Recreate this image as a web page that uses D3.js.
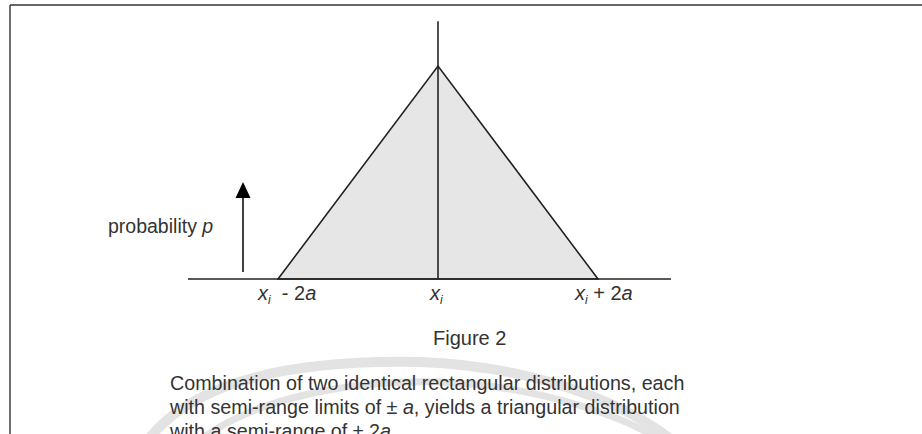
<!DOCTYPE html>
<html>
<head>
<meta charset="utf-8">
<script src="https://cdn.jsdelivr.net/npm/d3@7"></script>
<style>
  html, body { margin: 0; padding: 0; background: #fff; }
  svg { display: block; }
  text { font-family: "Liberation Sans", Arial, sans-serif; fill: #333; }
</style>
</head>
<body>
<svg id="chart" width="922" height="434"></svg>
<script>
// Triangular distribution: position in units of a, relative density
const positions = [-2, 0, 2];
const density = [0, 1, 0];
// Axis labels at the three key positions: [base, subscript, operator, coefficient, symbol]
const tickLabels = [
  ["x", "i", "  - ", "2", "a"],
  ["x", "i", "", "", ""],
  ["x", "i", " + ", "2", "a"]
];
const axisExtent = [-3.125, 2.9125];   // horizontal baseline span, units of a
const centerLineTop = 1.21;            // vertical line at x_i, relative density
const arrowSpan = [0.033, 0.455];      // "probability p" arrow, relative density
const yLabel = "probability";
const yLabelSymbol = "p";
const figureTitle = "Figure 2";
const captionLines = [
  "Combination of two identical rectangular distributions, each",
  ["with semi-range limits of \u00b1 ", "a", ", yields a triangular distribution"],
  ["with a semi-range of \u00b1 2", "a", "."]
];

const svg = d3.select("#chart");
const x = d3.scaleLinear().domain(axisExtent).range([188, 671]);
const y = d3.scaleLinear().domain([0, 1]).range([279, 66]);

// Faint background watermark arcs
const wm = svg.append("g").attr("fill", "none").attr("stroke", "#e3e3e3");
wm.append("path")
  .attr("d", "M148,440 C200,372 320,360 420,362 C530,366 620,400 672,440")
  .attr("stroke-width", 10);
wm.append("path")
  .attr("d", "M200,440 C255,398 350,380 440,382 C545,386 630,420 660,440")
  .attr("stroke-width", 7);

// Page frame
svg.append("line").attr("x1", 10).attr("x2", 922).attr("y1", 5).attr("y2", 5)
  .attr("stroke", "#333").attr("stroke-width", 1.6);
svg.append("line").attr("x1", 10).attr("x2", 10).attr("y1", 5).attr("y2", 434)
  .attr("stroke", "#333").attr("stroke-width", 1.4);

// Triangle area
const pts = positions.map((p, i) => [x(p), y(density[i])]);
svg.append("path")
  .attr("d", d3.line()(pts) + "Z")
  .attr("fill", "#e6e6e6")
  .attr("stroke", "#222")
  .attr("stroke-width", 1.6)
  .attr("stroke-linejoin", "miter");

// Baseline
svg.append("line")
  .attr("x1", x(axisExtent[0])).attr("x2", x(axisExtent[1]))
  .attr("y1", y(0)).attr("y2", y(0))
  .attr("stroke", "#222").attr("stroke-width", 1.7);

// Vertical line at x_i
svg.append("line")
  .attr("x1", x(0)).attr("x2", x(0))
  .attr("y1", y(0)).attr("y2", y(centerLineTop))
  .attr("stroke", "#222").attr("stroke-width", 1.6);

// Probability arrow
const ax = 243;
svg.append("line")
  .attr("x1", ax).attr("x2", ax)
  .attr("y1", y(arrowSpan[0])).attr("y2", y(arrowSpan[1]) + 12)
  .attr("stroke", "#111").attr("stroke-width", 1.6);
const tipY = y(arrowSpan[1]);
svg.append("path")
  .attr("d", `M${ax},${tipY} L${ax - 7.5},${tipY + 16} L${ax + 7.5},${tipY + 16} Z`)
  .attr("fill", "#000");

const pl = svg.append("text").attr("x", 108).attr("y", 233).attr("font-size", 19.5)
  .style("white-space", "pre");
pl.append("tspan").text(yLabel + " ");
pl.append("tspan").attr("font-style", "italic").text(yLabelSymbol);

// Tick labels under the baseline
const labelOffsets = [-20, -8, -23];
tickLabels.forEach((parts, i) => {
  const t = svg.append("text")
    .attr("x", x(positions[i]) + labelOffsets[i])
    .attr("y", 300)
    .attr("font-size", 20)
    .style("white-space", "pre");
  t.append("tspan").attr("font-style", "italic").text(parts[0]);
  t.append("tspan").attr("font-style", "italic").attr("font-size", 12).attr("dy", 4).text(parts[1]);
  if (parts[2]) {
    t.append("tspan").attr("dy", -4).text(parts[2] + parts[3]);
    t.append("tspan").attr("font-style", "italic").text(parts[4]);
  }
});

// Figure title
svg.append("text").attr("x", 433).attr("y", 345).attr("font-size", 20).text(figureTitle);

// Caption
captionLines.forEach((line, i) => {
  const t = svg.append("text").attr("x", 170).attr("y", 390 + i * 24).attr("font-size", 19.7)
    .style("white-space", "pre");
  if (typeof line === "string") {
    t.text(line);
  } else {
    t.append("tspan").text(line[0]);
    t.append("tspan").attr("font-style", "italic").text(line[1]);
    t.append("tspan").text(line[2]);
  }
});
</script>
</body>
</html>
